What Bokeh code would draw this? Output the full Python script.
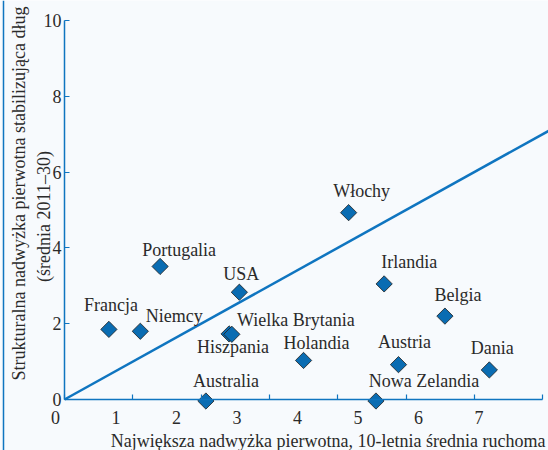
import math
from bokeh.plotting import figure
from bokeh.models import Range1d, LinearAxis, FixedTicker, Label, Span, ColumnDataSource
from bokeh.core.properties import value
from bokeh.embed import file_html
from bokeh.resources import INLINE

# ---- data ----
countries = ["Francja", "Niemcy", "Portugalia", "USA", "Hiszpania", "Wielka Brytania",
             "Holandia", "Australia", "Włochy", "Irlandia", "Belgia", "Austria",
             "Nowa Zelandia", "Dania"]
max_surplus = [0.65, 1.11, 1.40, 2.56, 2.41, 2.45, 3.50, 2.07, 4.16, 4.68, 5.57, 4.89, 4.56, 6.22]
debt_stab_surplus = [1.85, 1.80, 3.51, 2.83, 1.73, 1.72, 1.03, -0.04, 4.93, 3.05, 2.20, 0.92, -0.04, 0.78]
ref_line = [0, 8]
x_ticks = [0, 1, 2, 3, 4, 5, 6, 7]
x_tick_labels = ["0", "1", "2", "3", "4", "5", "6", "7"]
y_ticks = [0, 2, 4, 6, 8, 10]

x_title = "Największa nadwyżka pierwotna, 10-letnia średnia ruchoma"
y_title_1 = "Strukturalna nadwyżka pierwotna stabilizująca dług"
y_title_2 = "(średnia 2011–30)"

# label placement (screen px) - styling only
label_dx = [2, 34, 19, 2, 4, 64, 13, 20, 13, 25, 13, 6, 48, 3]
label_dy = [-24, -15, -16, -18, 13, -14, -17, -20, -22, -22, -21, -23, -20, -22]

FONT = "Liberation Serif"
FS = "18px"
BLUE = "#0f75c0"
MARK = "#0a6cb2"
TXT = "#2a2a2a"
BG = "#f7fafd"

W, H = 548, 450
PX_X, PX_Y = 68.3, 37.9        # pixels per unit
OX, OY = 64, 399               # origin position on the canvas

src = ColumnDataSource(dict(x=max_surplus, y=debt_stab_surplus, name=countries,
                            dx=label_dx, dy=label_dy))

p = figure(width=W, height=H, output_backend="svg", toolbar_location=None,
           x_range=Range1d(-OX / PX_X, (W - OX) / PX_X),
           y_range=Range1d(-(H - OY) / PX_Y, OY / PX_Y),
           min_border_left=0, min_border_right=0, min_border_top=0, min_border_bottom=0,
           background_fill_color=BG, border_fill_color=BG, outline_line_color=None)
p.grid.visible = False
p.extra_x_ranges = {"lbl": Range1d(start=-55 / 60.5, end=(W - 55) / 60.5)}

xa = p.xaxis[0]
xa.fixed_location = 0
xa.bounds = (0, 7)
xa.ticker = FixedTicker(ticks=x_ticks)
xa.major_tick_in = 5
xa.major_tick_out = 0
xa.minor_tick_line_color = None
xa.axis_line_color = BLUE
xa.axis_line_width = 1.5
xa.major_tick_line_color = BLUE
xa.major_tick_line_width = 1.2
xa.major_label_text_font_size = "0px"
xa.major_label_text_alpha = 0

ya = p.yaxis[0]
ya.fixed_location = 0
ya.bounds = (0, 10)
ya.ticker = FixedTicker(ticks=y_ticks)
ya.major_tick_in = 5
ya.major_tick_out = 0
ya.minor_tick_line_color = None
ya.axis_line_color = BLUE
ya.axis_line_width = 1.5
ya.major_tick_line_color = BLUE
ya.major_tick_line_width = 1.2
ya.major_label_standoff = 3
ya.major_label_text_font = FONT
ya.major_label_text_font_size = FS
ya.major_label_text_color = TXT

lab = LinearAxis(x_range_name="lbl", fixed_location=0, ticker=FixedTicker(ticks=x_ticks),
                 major_label_overrides={t: s for t, s in zip(x_ticks, x_tick_labels)},
                 axis_line_color=None, major_tick_line_color=None, minor_tick_line_color=None,
                 major_tick_in=0, major_tick_out=0,
                 major_label_standoff=11, major_label_text_font=FONT,
                 major_label_text_font_size=FS, major_label_text_color=TXT)
p.add_layout(lab, "below")

# chart's left border
p.add_layout(Span(location=3, location_units="screen", dimension="height",
                  line_color=BLUE, line_width=1.5))

common = dict(x_units="screen", y_units="screen", text_font=FONT, text_font_size=FS,
              text_color=TXT)
p.add_layout(Label(x=18, y=H - 193, angle=math.pi / 2, text=y_title_1,
                   text_align="center", text_baseline="middle", **common))
p.add_layout(Label(x=43, y=H - 216, angle=math.pi / 2, text=y_title_2,
                   text_align="center", text_baseline="middle", **common))
p.add_layout(Label(x=545, y=H - 440, text=x_title, text_align="right",
                   text_baseline="alphabetic", **common))

p.line(ref_line, ref_line, line_color=BLUE, line_width=2.5)
p.scatter("x", "y", source=src, marker="square", angle=math.pi / 4, size=11.5,
          fill_color=MARK, line_color="#1e1e1e", line_width=0.8)
p.text(x="x", y="y", text="name", x_offset="dx", y_offset="dy", source=src,
       text_align="center", text_baseline="alphabetic", text_font=value(FONT),
       text_font_size=FS, text_color=TXT)

open("out.html", "w").write(file_html(p, INLINE))
